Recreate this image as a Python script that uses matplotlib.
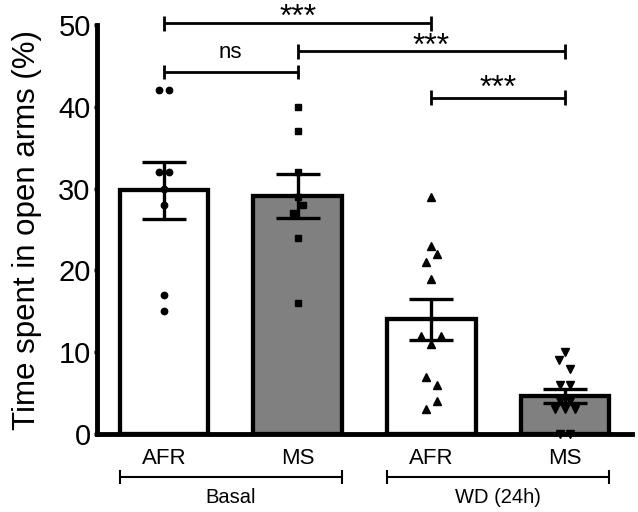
import matplotlib
matplotlib.use('Agg')
import matplotlib.pyplot as plt
import numpy as np

plt.rcParams['font.family'] = ['Liberation Sans', 'DejaVu Sans']

# ---------------- data ----------------
conditions = ['AFR', 'MS', 'AFR', 'MS']
groups = ['Basal', 'WD (24h)']
means = [29.8, 29.1, 14.0, 4.6]
sems = [3.5, 2.7, 2.45, 0.85]

afr_basal = [42, 42, 32, 32, 30, 28, 17, 15]
ms_basal = [40, 37, 32, 29, 28, 27, 24, 16]
afr_wd = [29, 23, 22, 21, 19, 12, 12, 11, 7, 6, 4, 3]
ms_wd = [10, 9, 8, 6, 6, 4, 4, 3, 3, 3, 0, 0]

# significance comparisons: (bar i, bar j, label, bracket height)
sig_pairs = [(0, 2, '***', 50.2), (1, 3, '***', 46.8),
             (0, 1, 'ns', 44.25), (2, 3, '***', 41.1)]

# ---------------- style / layout ----------------
bar_colors = ['white', '#808080', 'white', '#808080']
markers = ['o', 's', '^', 'v']
msizes = [4.6, 4.4, 5.2, 5.2]
label_offsets = [-0.3, -0.5, 1.7, 0.1]
j1, j2 = 0.037, 0.075
jitters = [
    [-j1, j1, -j1, j1, 0, 0, 0, 0],
    [0, 0, 0, 0, j1, -j1, 0, 0],
    [0, 0, 0.045, -j1, 0, -j2, j2, 0, -j1, 0.045, 0.045, -j1],
    [0, -0.045, j1, -j1, j1, -j1, j1, -j2, 0, j2, -j1, j1],
]
points = [afr_basal, ms_basal, afr_wd, ms_wd]

fig = plt.figure(figsize=(6.38, 5.12), dpi=100)
ax = fig.add_axes([97 / 638, 1 - 434 / 512, (632 - 97) / 638, (434 - 25) / 512])

x = np.arange(len(conditions))
bw = 0.66
ax.bar(x, means, width=bw, color=bar_colors, edgecolor='black',
       linewidth=3.1, zorder=2)

for i, (vals, jit) in enumerate(zip(points, jitters)):
    ax.plot(x[i] + np.array(jit), vals, linestyle='none', marker=markers[i],
            markersize=msizes[i], color='black', zorder=3, clip_on=False)

ax.errorbar(x, means, yerr=sems, fmt='none', ecolor='black', elinewidth=2.4,
            capsize=15.5, capthick=2.4, zorder=4)

# significance brackets
th = 0.9
for (a, b, lab, yb), off in zip(sig_pairs, label_offsets):
    ax.plot([x[a], x[b]], [yb, yb], color='black', lw=2.0, clip_on=False,
            solid_capstyle='butt')
    for xx in (x[a], x[b]):
        ax.plot([xx, xx], [yb - th, yb + th], color='black', lw=2.0,
                clip_on=False, solid_capstyle='butt')
    fs = 16 if lab == 'ns' else 23
    ax.text((x[a] + x[b]) / 2, yb + off, lab, ha='center', va='baseline',
            fontsize=fs)

# group brackets below axis
for gi, g in enumerate(groups):
    x0 = x[2 * gi] - bw / 2
    x1 = x[2 * gi + 1] + bw / 2
    yb = -5.26
    ax.plot([x0, x1], [yb, yb], color='black', lw=1.5, clip_on=False,
            solid_capstyle='butt')
    for xx in (x0, x1):
        ax.plot([xx, xx], [yb - 0.9, yb + 0.9], color='black', lw=1.5,
                clip_on=False, solid_capstyle='butt')
    ax.text((x0 + x1) / 2, -7.8, g, ha='center', va='center', fontsize=14.5)

ax.set_xlim(-0.5, 3.5)
ax.set_ylim(0, 50)
ax.set_yticks([0, 10, 20, 30, 40, 50])
ax.set_xticks(x)
ax.set_xticklabels(conditions, fontsize=16)
ax.tick_params(axis='x', length=0, pad=10)
ax.tick_params(axis='y', labelsize=21, length=2.5, width=2.5, pad=2)
ax.set_ylabel('Time spent in open arms (%)', fontsize=22.5, labelpad=12)

for s in ('top', 'right'):
    ax.spines[s].set_visible(False)
for s in ('left', 'bottom'):
    ax.spines[s].set_linewidth(3.5)
    ax.spines[s].set_zorder(5)

fig.savefig('out.png', dpi=100)
